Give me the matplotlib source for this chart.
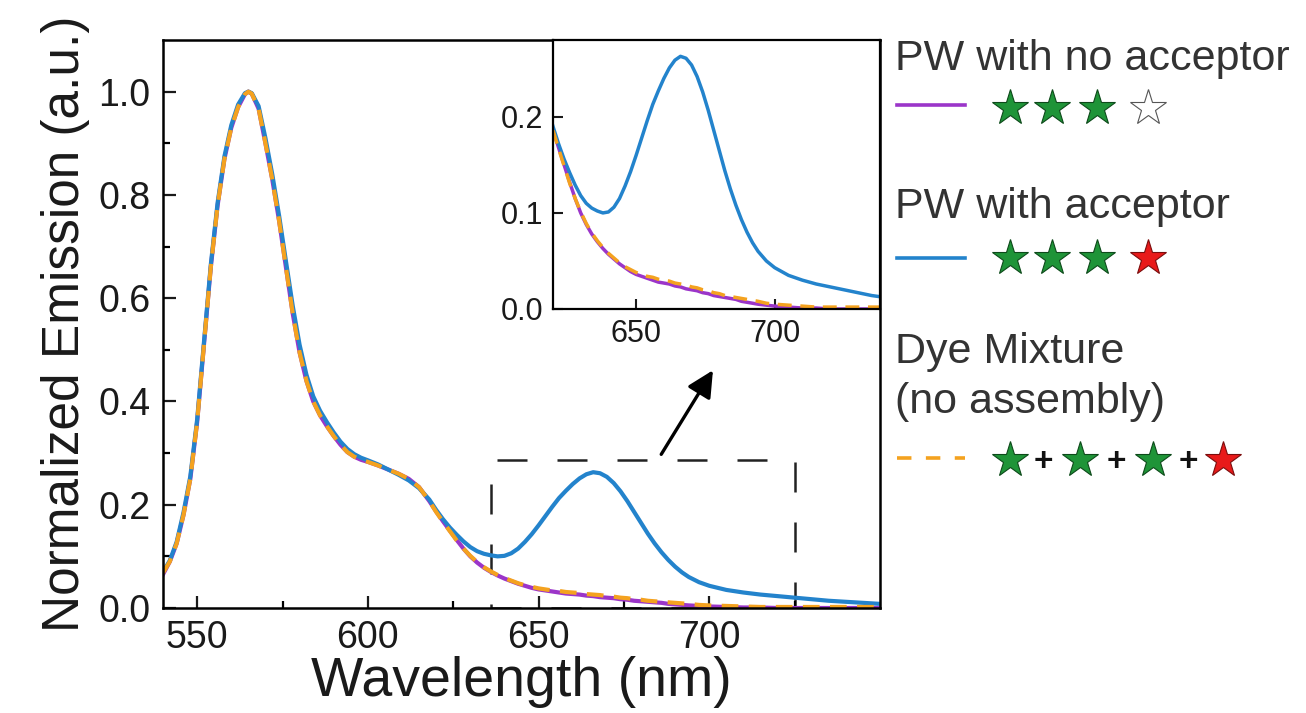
import matplotlib
matplotlib.use("Agg")
import matplotlib.pyplot as plt
from matplotlib.patches import Rectangle

plt.rcParams['font.family'] = ['Liberation Sans', 'DejaVu Sans']

# Datos (longitud de onda en nm)
wavelength = [540, 542, 544, 546, 548, 550, 552, 554, 556, 558, 560, 562, 564, 565, 566, 568,
              570, 572, 574, 576, 578, 580, 582, 584, 586, 588, 590, 592, 594, 596, 598, 600,
              603, 606, 609, 612, 615, 618, 620, 622, 624, 626, 628, 630, 632, 634, 636, 638,
              640, 642, 644, 646, 648, 650, 652, 654, 656, 658, 660, 662, 664, 666, 668, 670,
              672, 674, 676, 678, 680, 682, 684, 686, 688, 690, 692, 694, 697, 700, 705, 710,
              715, 720, 725, 730, 735, 740, 745, 750]

# PW sin aceptor
no_acceptor = [0.065, 0.09, 0.125, 0.18, 0.25, 0.36, 0.51, 0.66, 0.78, 0.87, 0.93, 0.97, 0.995, 1.0, 0.996, 0.967,
               0.9, 0.83, 0.75, 0.66, 0.57, 0.495, 0.44, 0.4, 0.373, 0.352, 0.333, 0.316, 0.302, 0.293, 0.287, 0.283,
               0.276, 0.268, 0.26, 0.25, 0.234, 0.207, 0.187, 0.168, 0.15, 0.132, 0.115, 0.1, 0.088, 0.078, 0.07, 0.063,
               0.057, 0.052, 0.047, 0.043, 0.039, 0.036, 0.034, 0.032, 0.03, 0.028, 0.027, 0.026, 0.024, 0.023, 0.021, 0.02,
               0.019, 0.017, 0.016, 0.014, 0.013, 0.012, 0.011, 0.01, 0.008, 0.007, 0.006, 0.005, 0.004, 0.003, 0.002, 0.001,
               0.001, 0.0, 0.0, 0.0, 0.0, 0.0, 0.0, 0.0]

# PW con aceptor
with_acceptor = [0.07, 0.092, 0.128, 0.185, 0.255, 0.365, 0.515, 0.665, 0.785, 0.875, 0.935, 0.975, 0.997, 1.0, 0.997, 0.972,
                 0.91, 0.84, 0.76, 0.672, 0.585, 0.51, 0.452, 0.41, 0.382, 0.36, 0.34, 0.322, 0.308, 0.298, 0.291, 0.286,
                 0.278, 0.268, 0.258, 0.247, 0.232, 0.21, 0.19, 0.172, 0.156, 0.142, 0.129, 0.118, 0.11, 0.105, 0.102, 0.1,
                 0.101, 0.106, 0.115, 0.128, 0.143, 0.16, 0.178, 0.196, 0.213, 0.227, 0.24, 0.251, 0.259, 0.263, 0.261, 0.254,
                 0.242, 0.226, 0.207, 0.186, 0.165, 0.144, 0.125, 0.108, 0.093, 0.08, 0.069, 0.06, 0.05, 0.043, 0.035, 0.03,
                 0.026, 0.023, 0.02, 0.017, 0.014, 0.012, 0.01, 0.008]

# Mezcla de colorantes
dye_mixture = [0.068, 0.09, 0.125, 0.18, 0.25, 0.36, 0.51, 0.66, 0.78, 0.87, 0.93, 0.97, 0.995, 1.0, 0.996, 0.967,
               0.9, 0.83, 0.75, 0.66, 0.57, 0.495, 0.44, 0.4, 0.373, 0.352, 0.333, 0.316, 0.302, 0.293, 0.287, 0.283,
               0.276, 0.268, 0.26, 0.25, 0.234, 0.207, 0.186, 0.167, 0.149, 0.131, 0.115, 0.101, 0.089, 0.079, 0.071, 0.064,
               0.058, 0.053, 0.048, 0.044, 0.041, 0.038, 0.036, 0.034, 0.033, 0.031, 0.03, 0.029, 0.027, 0.026, 0.025, 0.023,
               0.022, 0.02, 0.019, 0.017, 0.016, 0.014, 0.013, 0.012, 0.011, 0.01, 0.009, 0.008, 0.006, 0.005, 0.004, 0.003,
               0.002, 0.002, 0.002, 0.002, 0.002, 0.002, 0.002, 0.002]

c_purple = '#9b35c9'
c_blue = '#2383cc'
c_orange = '#f4a21f'
c_green = '#1f9438'
c_red = '#e81a1a'
c_text = '#1a1a1a'

W, H = 1306, 713
fig = plt.figure(figsize=(13.06, 7.13), dpi=100)

# Ejes principales
ax = fig.add_axes([163 / W, 1 - 608 / H, (880 - 163) / W, (608 - 40) / H])
ax.plot(wavelength, no_acceptor, color=c_purple, lw=3)
ax.plot(wavelength, with_acceptor, color=c_blue, lw=3)
ax.plot(wavelength, dye_mixture, color=c_orange, lw=3, dashes=(4, 2.5))
ax.set_xlim(540, 750)
ax.set_ylim(0, 1.1)
ax.set_xticks([550, 600, 650, 700])
ax.set_xticks([575, 625, 675, 725], minor=True)
ax.set_yticks([0.0, 0.2, 0.4, 0.6, 0.8, 1.0])
ax.set_yticks([0.1, 0.3, 0.5, 0.7, 0.9], minor=True)
ax.set_yticklabels(['0.0', '0.2', '0.4', '0.6', '0.8', '1.0'])
ax.tick_params(which='major', direction='in', length=9, width=1.6, labelsize=27,
               colors=c_text, pad=9)
ax.tick_params(which='minor', direction='in', length=5, width=1.6)
ax.tick_params(axis='x', which='major', pad=9)
for s in ax.spines.values():
    s.set_linewidth(1.8)
ax.set_xlabel('Wavelength (nm)', fontsize=40, color=c_text, labelpad=0)
ax.set_ylabel('Normalized Emission (a.u.)', fontsize=37, color=c_text, labelpad=6)

# Recuadro punteado y flecha
ax.add_patch(Rectangle((636, 0), 89, 0.287, fill=False, ec='#222222', lw=1.8,
                       ls=(0, (12, 12)), zorder=1))
ax.annotate('', xy=(701.5, 0.465), xytext=(685.5, 0.293),
            arrowprops=dict(arrowstyle='-|>', color='black', lw=2.4, mutation_scale=40))

# Inset
ins = fig.add_axes([553 / W, 1 - 309 / H, (880 - 553) / W, (309 - 40) / H])
ins.plot(wavelength, no_acceptor, color=c_purple, lw=2.5)
ins.plot(wavelength, with_acceptor, color=c_blue, lw=2.5)
ins.plot(wavelength, dye_mixture, color=c_orange, lw=2.5, dashes=(4, 2.5))
ins.set_xlim(620, 738)
ins.set_ylim(0, 0.28)
ins.set_xticks([650, 700])
ins.set_yticks([0.0, 0.1, 0.2])
ins.set_yticklabels(['0.0', '0.1', '0.2'])
ins.tick_params(direction='in', length=7, width=1.5, labelsize=22, colors=c_text, pad=7)
for s in ins.spines.values():
    s.set_linewidth(1.6)

# Leyenda hecha a mano
lg = fig.add_axes([0, 0, 1, 1])
lg.set_xlim(0, W)
lg.set_ylim(H, 0)
lg.set_axis_off()
lg.patch.set_alpha(0)

leg_color = '#333333'
lg.text(895, 70, 'PW with no acceptor', fontsize=31, color=leg_color, va='baseline')
lg.text(895, 218, 'PW with acceptor', fontsize=31, color=leg_color, va='baseline')
lg.text(895, 363, 'Dye Mixture', fontsize=31, color=leg_color, va='baseline')
lg.text(895, 413, '(no assembly)', fontsize=31, color=leg_color, va='baseline')

lg.plot([897, 965], [105, 105], color=c_purple, lw=2.6)
lg.plot([897, 965], [258, 258], color=c_blue, lw=2.6)
lg.plot([897, 965], [458, 458], color=c_orange, lw=2.6, dashes=(4, 4))

star_kw = dict(marker='*', markersize=27, markeredgewidth=0.8, ls='none')
for y, last in [(108, 'white'), (258, c_red)]:
    for x in [1010, 1052, 1097]:
        lg.plot(x, y, markerfacecolor=c_green, markeredgecolor='#0d4a1a', **star_kw)
    lg.plot(1148, y, markerfacecolor=last,
            markeredgecolor='#555555' if last == 'white' else '#7a0d0d', **star_kw)

for x, col in [(1010, c_green), (1080, c_green), (1153, c_green), (1223, c_red)]:
    lg.plot(x, 460, markerfacecolor=col,
            markeredgecolor='#0d4a1a' if col == c_green else '#7a0d0d', **star_kw)
for x in [1043, 1116, 1188]:
    lg.text(x, 462, '+', fontsize=24, fontweight='bold', color='#111111',
            ha='center', va='center')

fig.savefig('out.png', dpi=100)
